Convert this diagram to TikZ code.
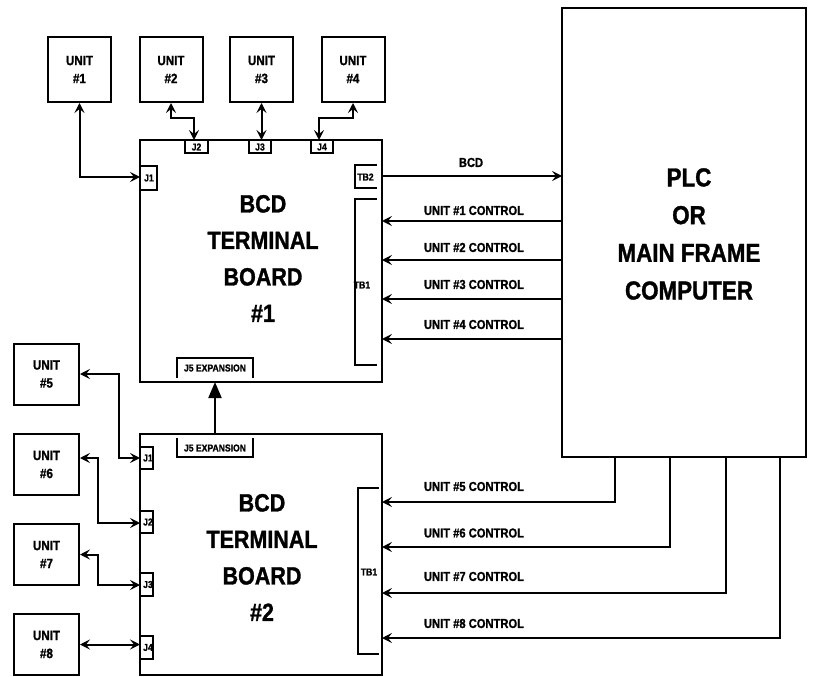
\documentclass[tikz,border=0pt]{standalone}
\usepackage{fontspec}
\setmainfont{Liberation Sans}[FakeStretch=0.86,BoldFeatures={FakeBold=1.2}]
\usetikzlibrary{arrows.meta}
\begin{document}
\begin{tikzpicture}[x=1pt,y=-1pt,
  lw/.style={line width=2pt},
  box/.style={draw,lw,inner sep=0pt},
  unitbox/.style={box,align=center,font=\bfseries\fontsize{13.5}{18}\selectfont},
  bigtext/.style={align=center,inner sep=0pt,font=\bfseries\fontsize{25}{36.5}\selectfont},
  plctext/.style={align=center,inner sep=0pt,font=\bfseries\fontsize{26}{37.7}\selectfont},
  ctl/.style={inner sep=0pt,font=\bfseries\fontsize{13}{15}\selectfont},
  small/.style={inner sep=0pt,font=\bfseries\fontsize{10}{12}\selectfont},
  arr/.style={lw,-{Stealth[length=10pt,width=10pt,inset=4pt]}},
  darr/.style={lw,{Stealth[length=10pt,width=10pt,inset=4pt]}-{Stealth[length=10pt,width=10pt,inset=4pt]}},
  bigarr/.style={lw,-{Triangle[length=16pt,width=13pt]}}]
\useasboundingbox (0,0) rectangle (815,677);
% boards and PLC
\node[box,minimum width=242pt,minimum height=242pt] (b1) at (261,261) {};
\node[box,minimum width=242pt,minimum height=241pt] (b2) at (261,554.5) {};
\node[box,minimum width=244pt,minimum height=449pt] (plc) at (684,232.5) {};
\node[bigtext] (t1) at (263,258.5) {BCD\\TERMINAL\\BOARD\\\#1};
\node[bigtext] (t2) at (262,557.5) {BCD\\TERMINAL\\BOARD\\\#2};
\node[plctext] (tp) at (689,234) {PLC\\OR\\MAIN FRAME\\COMPUTER};
% units
\foreach \n/\x in {1/79.5,2/171,3/261.5,4/353}
  \node[unitbox,minimum width=63pt,minimum height=65pt] (u\n) at (\x,69.5) {UNIT\\\#\n};
\foreach \n/\y in {5/374,6/464.5,7/554.5,8/644.5}
  \node[unitbox,minimum width=65pt,minimum height=61pt] (u\n) at (46.5,\y) {UNIT\\\#\n};
% connector outlines, board 1
\draw[lw] (140,166) -- (157,166) -- (157,190) -- (140,190);
\draw[lw] (185,140) -- (185,153) -- (208,153) -- (208,140);
\draw[lw] (249,140) -- (249,153) -- (271,153) -- (271,140);
\draw[lw] (311,140) -- (311,153) -- (333,153) -- (333,140);
\draw[lw] (377,165) -- (355,165) -- (355,188) -- (377,188);
\draw[lw] (377,199) -- (355,199) -- (355,365) -- (377,365);
\draw[lw] (177,378) -- (177,358) -- (253,358) -- (253,378);
% connector outlines, board 2
\foreach \a/\b in {447/469,511/533,573/596,636/659}
  \draw[lw] (140,\a) -- (153,\a) -- (153,\b) -- (140,\b);
\draw[lw] (379,488) -- (358,488) -- (358,654) -- (379,654);
\draw[lw] (177,438) -- (177,457) -- (253,457) -- (253,438);
% small labels
\node[small] (lj1) at (149,178) {J1};
\node[small] (lj2) at (196.5,147) {J2};
\node[small] (lj3) at (260,147) {J3};
\node[small] (lj4) at (322,147) {J4};
\node[small] (ltb2) at (365.5,177) {TB2};
\node[small] (ltb1) at (362,285) {TB1};
\node[small] (lj5a) at (215,368) {J5 EXPANSION};
\node[small] (lj5b) at (215,448) {J5 EXPANSION};
\foreach \n/\y in {1/458,2/522,3/584.5,4/647.5}
  \node[small] (lk\n) at (148,\y) {J\n};
\node[small] (ltb1b) at (369,572) {TB1};
% coordinates
\coordinate (j1a) at (140,177);
\coordinate (j2a) at (194,140);
\coordinate (j3a) at (261.5,140);
\coordinate (j4a) at (319,140);
\coordinate (k1) at (140,458);
\coordinate (k2) at (140,523);
\coordinate (k3) at (140,585);
\coordinate (k4) at (140,644.5);
% unit wires
\draw[darr] (u1.south) |- (j1a);
\draw[darr] (u2.south) -- ++(0,15) -| (j2a);
\draw[darr] (u3.south) -- (j3a);
\draw[darr] (u4.south) -- ++(0,15) -| (j4a);
\draw[darr] (u5.east) -- ++(39,0) |- (k1);
\draw[darr] ([yshift=6.5pt]u6.east) -- ++(18,0) |- (k2);
\draw[darr] (u7.east) -- ++(18,0) |- (k3);
\draw[darr] (u8.east) -- (k4);
% expansion
\coordinate (x5b) at (215,434);
\coordinate (x5a) at (215,382);
\draw[bigarr] (x5b) -- (x5a);
% BCD and controls
\coordinate (bcdA) at (382,176);
\coordinate (bcdB) at (562,176);
\draw[arr] (bcdA) -- (bcdB);
\node[ctl] (lbcd) at (471,162.5) {BCD};
\foreach \n/\y/\ly in {1/221/210.5,2/260/247.5,3/299/284.5,4/339/324.5}{
  \coordinate (c\n) at (562,\y);
  \coordinate (d\n) at (382,\y);
  \draw[arr] (c\n) -- (d\n);
  \node[ctl] (lc\n) at (474,\ly) {UNIT \#\n{} CONTROL};
}
\foreach \n/\x/\y/\ly in {5/615/502/486.5,6/670/547/533,7/726/593/576.5,8/780/638/623.5}{
  \coordinate (p\n) at (\x,457);
  \coordinate (e\n) at (382,\y);
  \draw[arr] (p\n) |- (e\n);
  \node[ctl] (lc\n) at (474,\ly) {UNIT \#\n{} CONTROL};
}
\end{tikzpicture}
\end{document}
